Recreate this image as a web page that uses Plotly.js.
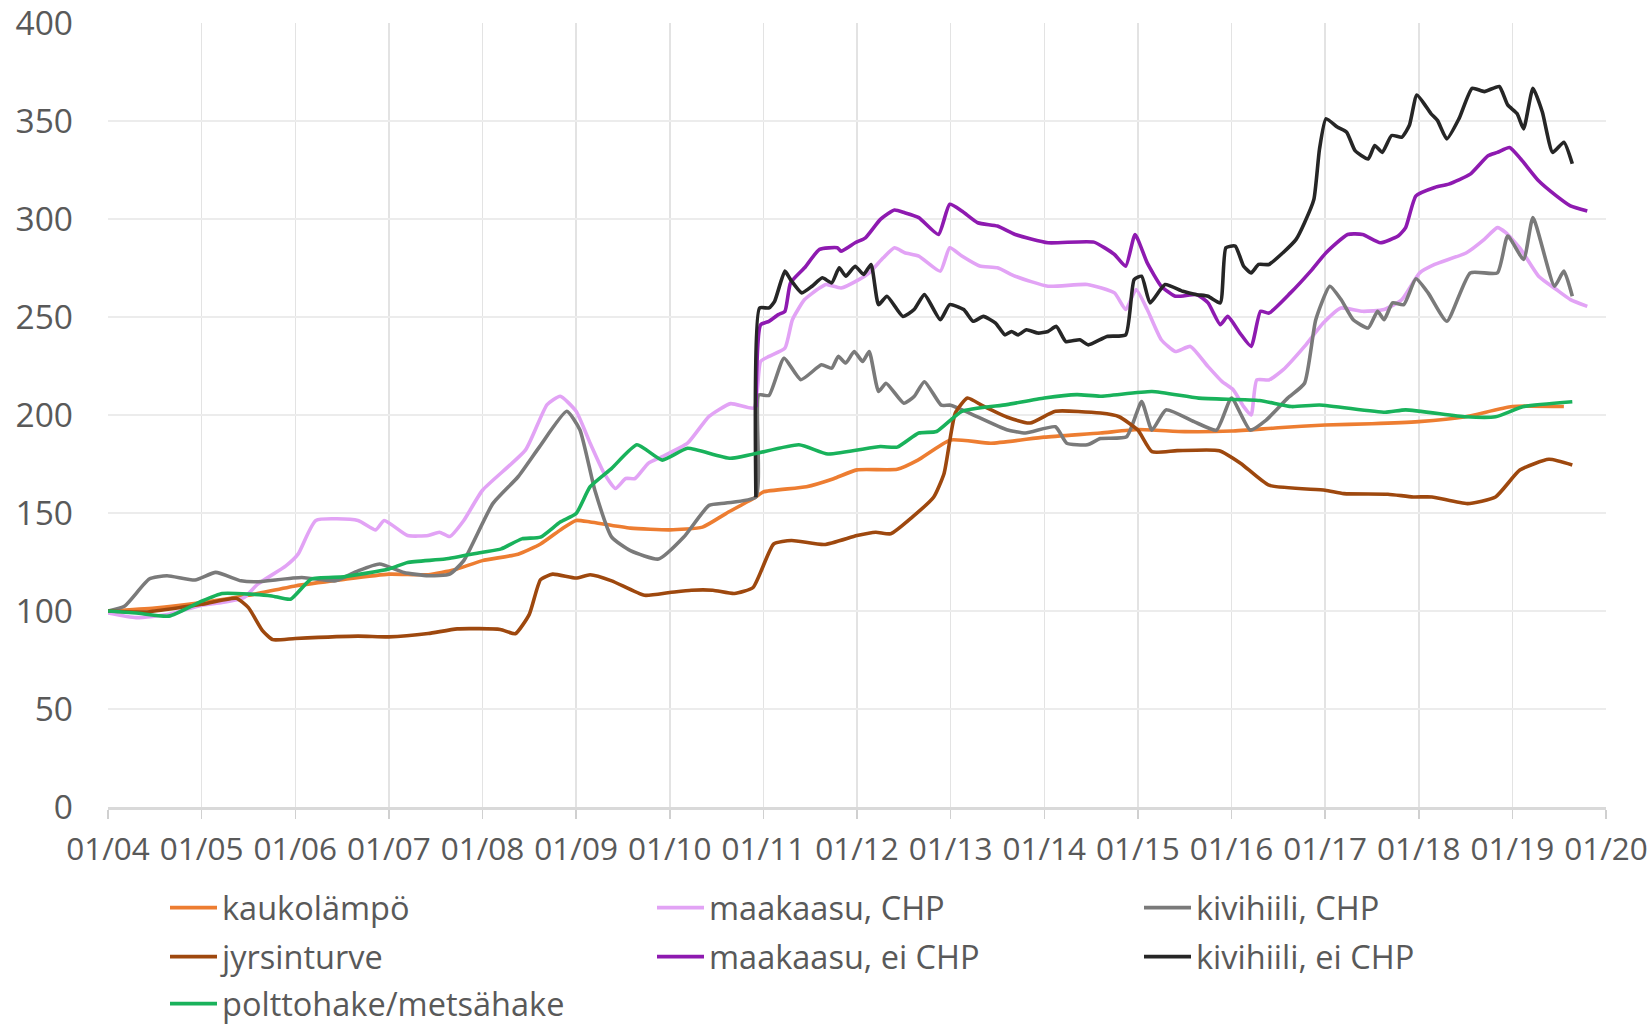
<!DOCTYPE html>
<html>
<head>
<meta charset="utf-8">
<script src="https://cdn.plot.ly/plotly-3.0.1.min.js"></script>
<style>html,body{margin:0;padding:0;background:#fff;}#chart{width:1652px;height:1027px;}</style>
</head>
<body>
<div id="chart"></div>
<script>
// ---- tick labels ----
const tickYears = [2004,2005,2006,2007,2008,2009,2010,2011,2012,2013,2014,2015,2016,2017,2018,2019,2020];
const tickLabels = ['01/04','01/05','01/06','01/07','01/08','01/09','01/10','01/11','01/12','01/13','01/14','01/15','01/16','01/17','01/18','01/19','01/20'];

// ---- series (x = decimal year, y = index, 2004 = 100) ----
const kaukolampoX = [2004.0,2004.5,2005.0,2005.5,2006.0,2006.5,2007.0,2007.42,2007.7,2008.0,2008.38,2008.62,2008.85,2009.0,2009.15,2009.58,2010.0,2010.35,2010.6,2010.92,2011.0,2011.46,2011.75,2012.0,2012.43,2012.65,2013.0,2013.43,2014.0,2014.6,2015.0,2015.5,2016.0,2016.5,2017.0,2017.5,2018.0,2018.5,2019.0,2019.55];
const kaukolampoY = [100,101.5,104.3,108,112.8,116,118.8,118.5,121,125.7,129,134.2,142,146.2,145.4,142.3,141.4,142.8,149.7,158.2,160.8,163.4,167.5,172,172.3,177,187.3,185.6,188.7,190.8,192.6,191.5,191.8,193.5,194.9,195.5,196.6,199.1,204.3,204.3];

const maakaasuChpX = [2004.0,2004.3,2004.65,2005.0,2005.22,2005.45,2005.6,2005.9,2006.03,2006.22,2006.67,2006.86,2006.95,2007.2,2007.42,2007.54,2007.65,2007.8,2008.0,2008.46,2008.69,2008.83,2009.0,2009.15,2009.3,2009.42,2009.53,2009.63,2009.77,2009.92,2010.19,2010.42,2010.65,2010.9,2010.97,2011.06,2011.23,2011.31,2011.44,2011.6,2011.67,2011.83,2012.02,2012.13,2012.28,2012.4,2012.51,2012.66,2012.89,2012.99,2013.12,2013.31,2013.5,2013.69,2014.04,2014.46,2014.75,2014.87,2014.98,2015.1,2015.25,2015.4,2015.56,2015.75,2015.9,2016.02,2016.13,2016.21,2016.27,2016.4,2016.55,2016.78,2016.98,2017.17,2017.4,2017.63,2017.82,2018.01,2018.17,2018.51,2018.7,2018.84,2018.93,2019.09,2019.28,2019.47,2019.62,2019.8];
const maakaasuChpY = [99,96.6,98.3,103,104.3,106.8,113.7,123,129,146.2,146.2,141.4,146.2,138.5,138.5,140.2,138,146.2,161.6,182.2,205.3,209.6,201.9,185.6,170.2,162.5,167.6,167.6,175.3,178.8,185.6,199.3,205.8,203.6,227.3,229.9,234.1,248.6,258.9,264.8,266.6,264.8,269.1,272.5,280.2,285.3,282.8,281.1,273.4,285.3,281.1,276,275.1,270.8,265.7,266.6,262.3,253.8,264,253.8,238.4,232.4,235,224.7,217,212.8,204.3,200,217.9,217.9,223,235,246.9,254.6,252.9,253.8,258.9,272.5,276.8,282.8,289.6,295.6,293,284.5,270.8,264,258.9,255.4];

const kivihiiliChpX = [2004.0,2004.18,2004.44,2004.63,2004.93,2005.15,2005.42,2005.58,2006.07,2006.43,2006.67,2006.9,2007.16,2007.42,2007.65,2007.8,2008.11,2008.38,2008.61,2008.9,2009.04,2009.2,2009.38,2009.58,2009.88,2010.15,2010.42,2010.6,2010.92,2010.95,2011.06,2011.22,2011.4,2011.62,2011.73,2011.8,2011.88,2011.97,2012.06,2012.13,2012.23,2012.31,2012.5,2012.61,2012.72,2012.9,2013.0,2013.2,2013.6,2013.8,2014.12,2014.24,2014.46,2014.6,2014.88,2015.04,2015.15,2015.3,2015.6,2015.84,2016.0,2016.2,2016.37,2016.6,2016.78,2016.9,2017.05,2017.17,2017.3,2017.46,2017.56,2017.63,2017.72,2017.84,2017.97,2018.1,2018.3,2018.55,2018.84,2018.95,2019.12,2019.22,2019.45,2019.55,2019.64];
const kivihiiliChpY = [100,102.6,116.3,118,115.8,119.7,115.4,114.9,117.1,115.4,120.5,124,119.7,118,118.8,125.7,154.8,168.5,183.9,201.9,192.5,161.6,137.7,130.8,126.5,137.7,153.9,155.1,158.2,210.2,210,229,218,225.6,223.9,229.9,226.5,232.4,227.3,232.4,212,216.2,206,209.4,217,205,205,201,192.5,190.8,194,185.6,184.8,188,188.9,206.8,192.3,202.6,196.6,192.3,208.6,192.3,197.4,208.6,216.2,248.6,265.7,258.9,248.6,244.4,252.9,248.6,257.2,256.3,269.5,262.3,247.8,272.5,272.5,291.3,279.4,300.7,265.7,273.4,260.6];

const jyrsinturveX = [2004.0,2004.4,2004.8,2005.0,2005.37,2005.5,2005.65,2005.76,2006.0,2006.67,2007.0,2007.42,2007.73,2008.19,2008.35,2008.5,2008.62,2008.75,2009.0,2009.15,2009.38,2009.73,2010.0,2010.23,2010.46,2010.69,2010.89,2011.11,2011.3,2011.65,2012.0,2012.2,2012.36,2012.59,2012.82,2012.93,2013.05,2013.18,2013.35,2013.6,2013.85,2014.12,2014.6,2014.8,2015.0,2015.15,2015.42,2015.87,2016.1,2016.4,2017.0,2017.2,2017.67,2017.94,2018.14,2018.52,2018.82,2019.08,2019.39,2019.64];
const jyrsinturveY = [100,99.5,102,103.4,106.5,101.7,90,85.4,86,87.2,86.8,88.5,90.9,90.6,88.4,98.3,116,118.8,116.8,118.5,115.4,108,109.4,110.6,110.6,108.9,112,134.2,136,133.9,138.5,140.2,139.4,147.9,158.2,170.2,201,208.7,204.5,199,195.9,201.9,201,199.1,192.3,181.3,181.8,181.8,175.3,164.2,161.6,159.9,159.6,158.2,158.2,154.8,158.2,171.9,177.4,174.5];

const maakaasuEiChpX = [2010.92,2010.97,2011.06,2011.16,2011.23,2011.29,2011.44,2011.6,2011.79,2011.83,2011.98,2012.09,2012.25,2012.4,2012.51,2012.66,2012.87,2012.99,2013.12,2013.29,2013.5,2013.69,2014.04,2014.53,2014.75,2014.87,2014.97,2015.1,2015.25,2015.4,2015.63,2015.75,2015.88,2015.96,2016.09,2016.21,2016.31,2016.4,2016.63,2016.86,2017.01,2017.24,2017.4,2017.59,2017.78,2017.86,2017.97,2018.17,2018.32,2018.55,2018.74,2018.84,2018.97,2019.09,2019.28,2019.47,2019.62,2019.8];
const maakaasuEiChpY = [204,246,247.8,251.2,252.9,267.4,275.1,284.5,285.3,283.6,287.9,290.4,299.8,304.6,303.2,300.7,292.1,307.5,304.1,298.1,296.4,292.1,287.9,288.2,281.9,275.9,292.1,277.6,265.7,260.6,261.4,257.2,246.1,250.3,241.8,235,252.9,252,262.3,274.2,282.8,292.1,292.1,287.9,291.3,295.6,311.8,316.1,317.8,322.9,332.3,334,336.5,330.6,319.5,311.8,306.7,304.1];

const kivihiiliEiChpX = [2010.92,2010.96,2011.06,2011.12,2011.23,2011.29,2011.41,2011.52,2011.63,2011.73,2011.81,2011.88,2011.98,2012.07,2012.15,2012.23,2012.32,2012.49,2012.61,2012.72,2012.89,2012.99,2013.14,2013.24,2013.35,2013.48,2013.58,2013.65,2013.72,2013.81,2013.93,2014.04,2014.13,2014.23,2014.38,2014.47,2014.67,2014.87,2014.96,2015.04,2015.13,2015.29,2015.48,2015.63,2015.75,2015.88,2015.94,2016.04,2016.13,2016.21,2016.29,2016.4,2016.55,2016.69,2016.78,2016.88,2016.94,2017.01,2017.13,2017.23,2017.32,2017.46,2017.53,2017.61,2017.71,2017.82,2017.9,2017.98,2018.13,2018.2,2018.3,2018.43,2018.57,2018.7,2018.86,2018.95,2019.05,2019.12,2019.22,2019.32,2019.43,2019.55,2019.64];
const kivihiiliEiChpY = [158,254.6,254.6,258,273.4,269.1,262.3,265.7,270,267.4,275.1,270.8,275.9,271.7,276.8,256.3,260.6,250.3,253.8,261.4,248.6,256.3,253.8,247.8,250.3,246.9,240.9,242.6,240.9,243.5,241.8,242.6,245.2,237.5,238.4,235.8,240.1,240.9,269.1,270.8,257.2,266.6,263.1,261.4,260.6,257.2,285.3,286.2,275.9,272.5,276.8,276.8,282.8,289.6,298.1,310,335.7,351.2,346.9,344.3,334.9,330.6,337.5,334,342.6,341.8,347.8,363.2,353.8,350.3,340.9,351.2,366.7,365,367.6,358.2,353.8,346,366.7,354.6,334,339.2,328.2];

const polttohakeX = [2004.0,2004.3,2004.65,2005.0,2005.22,2005.52,2005.75,2005.95,2006.17,2006.52,2007.0,2007.2,2007.6,2008.0,2008.2,2008.42,2008.62,2008.83,2009.0,2009.15,2009.38,2009.65,2009.92,2010.19,2010.65,2011.38,2011.69,2012.25,2012.43,2012.66,2012.85,2013.12,2013.6,2014.0,2014.35,2014.6,2015.15,2015.65,2016.3,2016.64,2016.94,2017.64,2017.86,2018.5,2018.82,2019.12,2019.64];
const polttohakeY = [100,99,97.4,105,108.9,108.6,107.7,106,116.3,117.5,121.4,124.8,126.5,130,131.7,136.8,137.7,145.4,149.7,163.4,172.8,184.8,177,183,177.9,184.8,180.1,183.9,183.6,190.8,191.6,201.9,205.3,208.7,210.4,209.6,212,208.6,207.4,204.3,205.1,201.4,202.6,199.1,199.1,204.3,206.8];

const seriesNames = ['kaukolämpö','maakaasu, CHP','kivihiili, CHP','jyrsinturve','maakaasu, ei CHP','kivihiili, ei CHP','polttohake/metsähake'];
const seriesColors = ['#ED7D31','#E2A3F5','#7A7A7A','#9E480E','#8E1AB0','#262626','#19B25B'];
const seriesX = [kaukolampoX, maakaasuChpX, kivihiiliChpX, jyrsinturveX, maakaasuEiChpX, kivihiiliEiChpX, polttohakeX];
const seriesY = [kaukolampoY, maakaasuChpY, kivihiiliChpY, jyrsinturveY, maakaasuEiChpY, kivihiiliEiChpY, polttohakeY];
const legendOf = ['legend','legend','legend','legend2','legend2','legend2','legend3'];

const traces = seriesNames.map((n, i) => ({
  type: 'scatter', mode: 'lines', name: n,
  x: seriesX[i], y: seriesY[i],
  line: {color: seriesColors[i], width: 3.6, shape: 'spline', smoothing: 0.5},
  legend: legendOf[i], hoverinfo: 'skip'
}));

const W = 1652, H = 1027;
const plotL = 107.5, plotR = 1606, plotT = 23, plotB = 807;
const cx = v => v / W;
const cy = v => 1 - v / H;
const txt = '#595959';
const legFont = {family: 'Open Sans, sans-serif', size: 32.5, color: txt};
const legBase = {orientation: 'h', xref: 'container', yref: 'container', xanchor: 'left', yanchor: 'middle', x: cx(165), entrywidth: 425, entrywidthmode: 'pixels', itemwidth: 47, font: legFont, bgcolor: 'rgba(0,0,0,0)', borderwidth: 0, itemclick: false, itemdoubleclick: false};

const layout = {
  width: W, height: H,
  margin: {l: plotL, r: W - plotR, t: plotT, b: H - plotB},
  paper_bgcolor: '#ffffff', plot_bgcolor: '#ffffff',
  font: {family: 'Open Sans, sans-serif', color: txt},
  showlegend: true,
  xaxis: {
    type: 'linear', range: [2004, 2020], tickvals: tickYears, ticktext: tickLabels,
    showgrid: true, gridcolor: '#e3e3e3', gridwidth: 1.5,
    showline: true, linecolor: '#d9d9d9', linewidth: 3,
    ticks: 'outside', ticklen: 9, tickcolor: '#d0d0d0', tickwidth: 1.5,
    tickfont: {family: 'Open Sans, sans-serif', size: 31.5, color: txt},
    ticklabelstandoff: 3, ticklabeloverflow: 'allow', zeroline: false, fixedrange: true
  },
  yaxis: {
    range: [0, 400], dtick: 50, tick0: 0,
    showgrid: true, gridcolor: '#ececec', gridwidth: 1.5,
    showline: false, zeroline: false, ticks: '',
    tickfont: {family: 'Open Sans, sans-serif', size: 33.5, color: txt},
    ticklabelstandoff: 34, ticklabeloverflow: 'allow', fixedrange: true
  },
  legend: Object.assign({}, legBase, {y: cy(908)}),
  legend2: Object.assign({}, legBase, {y: cy(957)}),
  legend3: Object.assign({}, legBase, {y: cy(1004)})
};

Plotly.newPlot('chart', traces, layout, {displayModeBar: false, staticPlot: true});
</script>
</body>
</html>
